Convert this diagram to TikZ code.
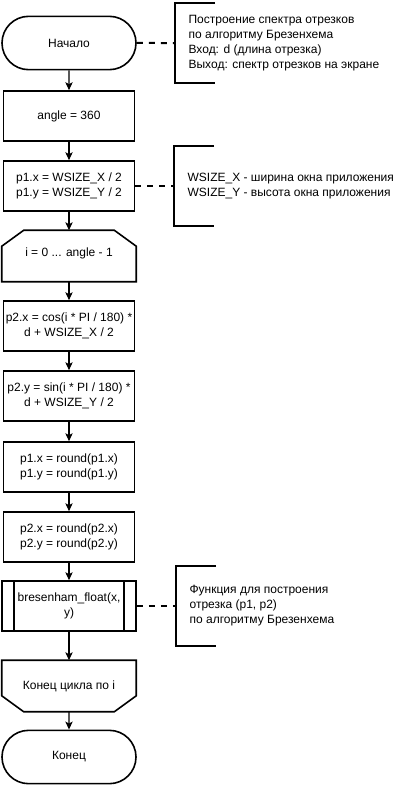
\documentclass[tikz,border=0pt]{standalone}
\usepackage{fontspec}
\setmainfont{Liberation Sans}
\usetikzlibrary{arrows.meta,shapes.misc}

\begin{document}
\begin{tikzpicture}[x=0.75pt, y=-0.75pt, font=\fontsize{9}{11.25}\selectfont]
\tikzstyle{proc} = [rectangle, draw=black, line width=1.2pt, minimum width=98.25pt, minimum height=37.5pt, align=center, inner sep=0pt]
\tikzstyle{term} = [rounded rectangle, draw=black, line width=1.2pt, minimum width=100.5pt, minimum height=40pt, inner sep=0pt]
\tikzstyle{loopbox} = [rectangle, minimum width=100.5pt, minimum height=38.25pt, align=center, inner sep=0pt]
\tikzstyle{sub} = [proc, minimum width=100.5pt]
\tikzstyle{note} = [rectangle, align=left, anchor=west, inner xsep=10pt, minimum height=60pt]
\tikzstyle{e} = [draw=black, line width=0.8pt, -{Stealth[length=6pt, width=5.5pt, inset=1.5pt]}]
\tikzstyle{link} = [draw=black, line width=1.5pt, dash pattern=on 4.5pt off 4.5pt]
\tikzstyle{brace} = [draw=black, line width=1.5pt]

\useasboundingbox (0,0) rectangle (418,785);

\node[term] (start) at (69,43) {Начало};
\node[note, minimum height=59.25pt] (n1) at (175,43) {Построение спектра отрезков\\по алгоритму Брезенхема\\Вход: d (длина отрезка)\\Выход: спектр отрезков на экране};
\node[proc] (angle) at (69,116) {angle = 360};
\node[proc] (p1) at (69,186) {p1.x = WSIZE\_X / 2\\p1.y = WSIZE\_Y / 2};
\node[note] (n2) at (174,186) {WSIZE\_X - ширина окна приложения\\WSIZE\_Y - высота окна приложения};
\node[loopbox] (loop) at (69,256) {\raisebox{6pt}{i = 0 ... angle - 1}};
\node[proc] (p2x) at (69,326) {p2.x = cos(i * PI / 180) *\\d + WSIZE\_X / 2};
\node[proc] (p2y) at (69,396) {p2.y = sin(i * PI / 180) *\\d + WSIZE\_Y / 2};
\node[proc] (r1) at (69,467) {p1.x = round(p1.x)\\p1.y = round(p1.y)};
\node[proc] (r2) at (69,537) {p2.x = round(p2.x)\\p2.y = round(p2.y)};
\node[sub] (bres) at (69,606) {bresenham\_float(x,\\y)};
\node[note] (n3) at (176,606) {Функция для построения\\отрезка (p1, p2)\\по алгоритму Брезенхема};
\node[loopbox] (lend) at (69,686) {Конец цикла по i};
\node[term] (end) at (69,757) {Конец};

% loop limits and subroutine bars
\draw[line width=1.2pt] ([xshift=16.5pt]loop.north west) -- ([xshift=-16.5pt]loop.north east) -- ([yshift=-12pt]loop.north east) -- (loop.south east) -- (loop.south west) -- ([yshift=-12pt]loop.north west) -- cycle;
\draw[line width=1.2pt] (lend.north west) -- (lend.north east) -- ([yshift=12pt]lend.south east) -- ([xshift=-16.5pt]lend.south east) -- ([xshift=16.5pt]lend.south west) -- ([yshift=12pt]lend.south west) -- cycle;
\draw[line width=1.2pt] ([xshift=9.75pt]bres.north west) -- ([xshift=9.75pt]bres.south west);
\draw[line width=1.2pt] ([xshift=-9.75pt]bres.north east) -- ([xshift=-9.75pt]bres.south east);

% comments
\draw[brace] ([xshift=30pt]n1.north west) -- (n1.north west) -- (n1.south west) -- ([xshift=30pt]n1.south west);
\draw[brace] ([xshift=30pt]n2.north west) -- (n2.north west) -- (n2.south west) -- ([xshift=30pt]n2.south west);
\draw[brace] ([xshift=30pt]n3.north west) -- (n3.north west) -- (n3.south west) -- ([xshift=30pt]n3.south west);
\draw[link] (start) -- (n1);
\draw[link] (p1) -- (n2);
\draw[link] (bres) -- (n3);

\draw[e] (start) -- (angle);
\draw[e] (angle) -- (p1);
\draw[e] (p1) -- (loop);
\draw[e] (loop) -- (p2x);
\draw[e] (p2x) -- (p2y);
\draw[e] (p2y) -- (r1);
\draw[e] (r1) -- (r2);
\draw[e] (r2) -- (bres);
\draw[e] (bres) -- (lend);
\draw[e] (lend) -- (end);
\end{tikzpicture}
\end{document}
